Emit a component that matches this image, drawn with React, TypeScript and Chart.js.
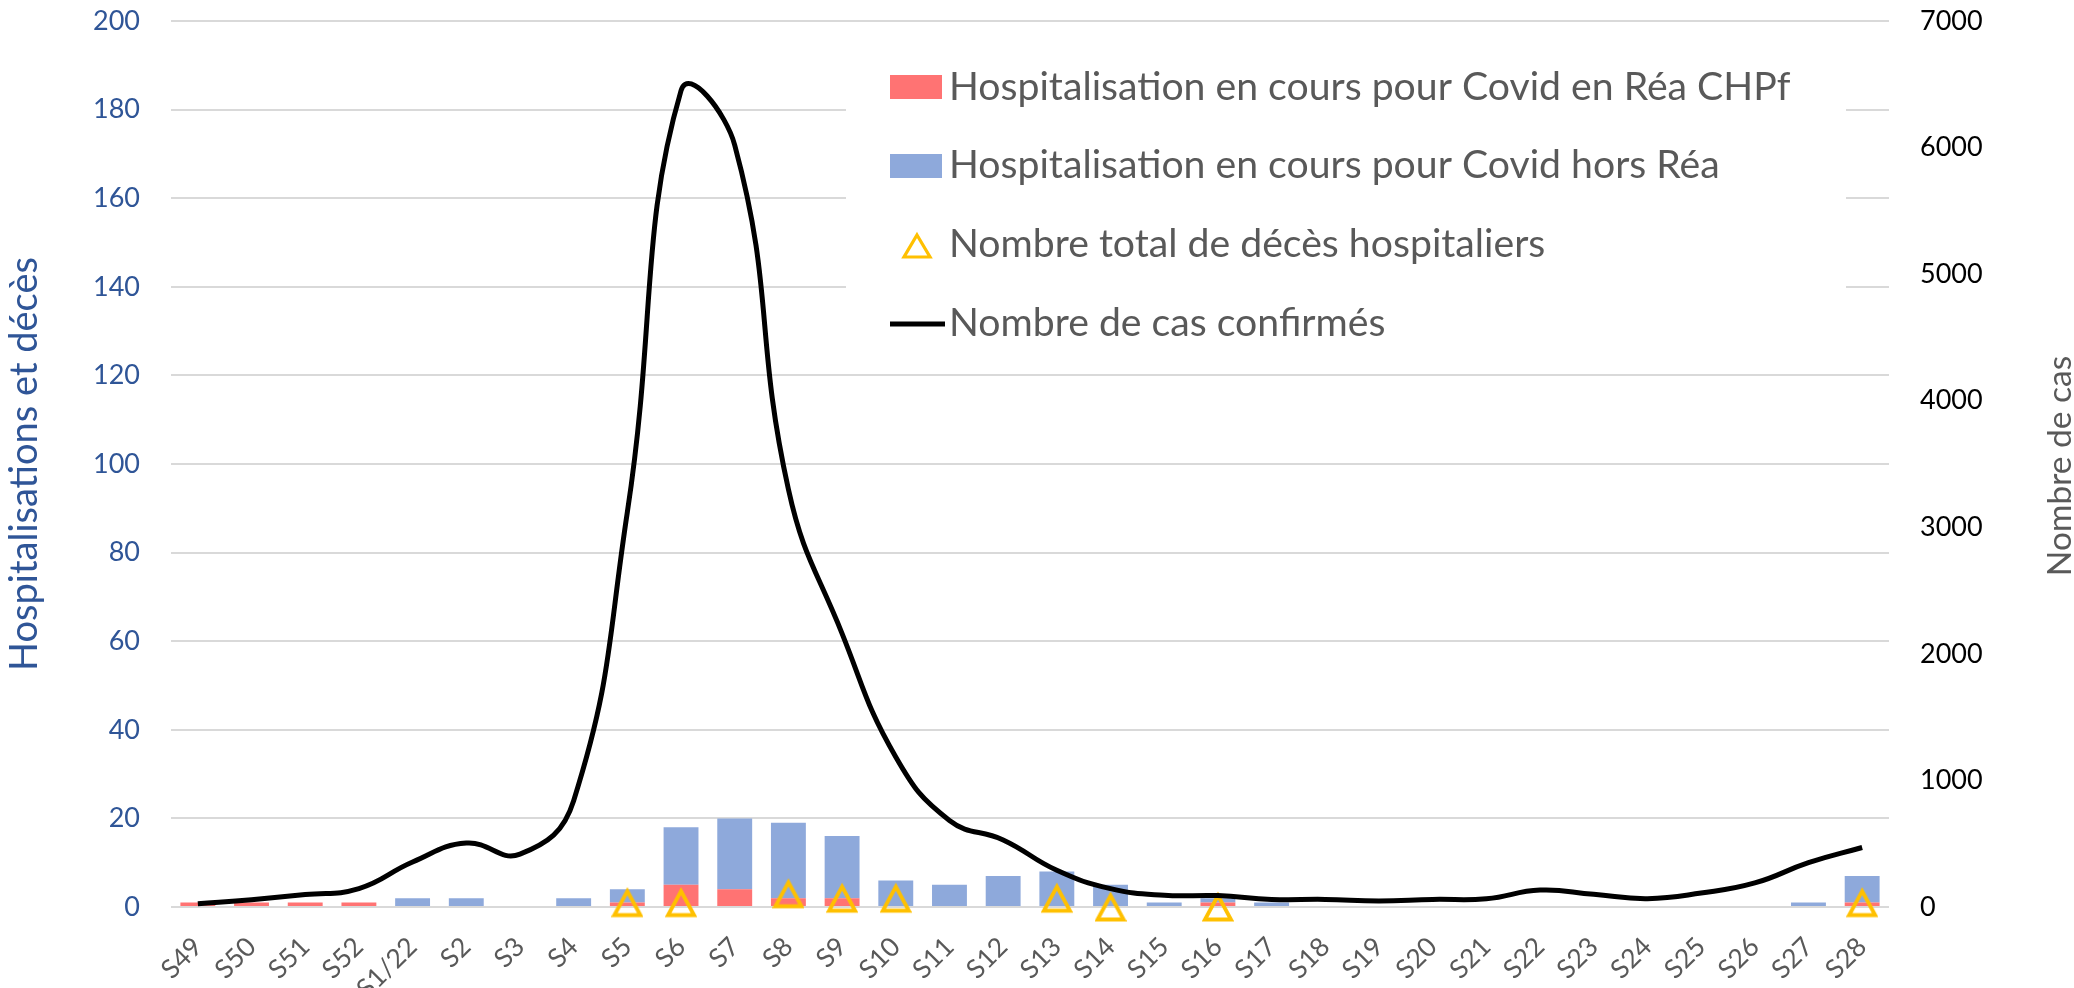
import React, { useEffect, useRef } from 'react';
import { Chart, registerables } from 'chart.js';

Chart.register(...registerables);

const categories = ['S49', 'S50', 'S51', 'S52', 'S1/22', 'S2', 'S3', 'S4', 'S5', 'S6', 'S7', 'S8', 'S9', 'S10', 'S11', 'S12', 'S13', 'S14', 'S15', 'S16', 'S17', 'S18', 'S19', 'S20', 'S21', 'S22', 'S23', 'S24', 'S25', 'S26', 'S27', 'S28'];

const reaValues = [1, 1, 1, 1, 0, 0, 0, 0, 1, 5, 4, 2, 2, 0, 0, 0, 0, 0, 0, 1, 0, 0, 0, 0, 0, 0, 0, 0, 0, 0, 0, 1];

const horsReaValues = [0, 0, 0, 0, 2, 2, 0, 2, 3, 13, 16, 17, 14, 6, 5, 7, 8, 5, 1, 1, 1, 0, 0, 0, 0, 0, 0, 0, 0, 0, 1, 6];

const deathValues = [null, null, null, null, null, null, null, null, 1, 1, null, 3, 2, 2, null, null, 2, 0, null, 0, null, null, null, null, null, null, null, null, null, null, null, 1];

const caseValues = [25, 58, 98, 145, 355, 505, 418, 840, 3120, 6450, 6020, 3300, 2160, 1185, 684, 530, 290, 145, 92, 90, 60, 60, 48, 60, 65, 134, 100, 66, 110, 190, 350, 470];

const labelRea = 'Hospitalisation en cours pour Covid en Réa CHPf';
const labelHorsRea = 'Hospitalisation en cours pour Covid hors Réa';
const labelDeaths = 'Nombre total de décès hospitaliers';
const labelCases = 'Nombre de cas confirmés';
const leftTitle = 'Hospitalisations et décès';
const rightTitle = 'Nombre de cas';

const RED = '#FF7373';
const BLUE = '#8EA9DB';
const ORANGE = '#FFC000';
const GRAY = '#595959';
const DARKBLUE = '#2F5597';
const FONT = 'Lato';

function makeTriangle(color: string) {
  const size = 32;
  const c = document.createElement('canvas');
  c.width = size;
  c.height = size;
  const ctx = c.getContext('2d')!;
  ctx.strokeStyle = color;
  ctx.lineWidth = 3.8;
  ctx.lineJoin = 'miter';
  ctx.beginPath();
  ctx.moveTo(16, 4.5);
  ctx.lineTo(29, 28.5);
  ctx.lineTo(3, 28.5);
  ctx.closePath();
  ctx.stroke();
  return c;
}

const overlayPlugin = {
  id: 'overlay',
  afterDraw(chart: any) {
    const ctx = chart.ctx as CanvasRenderingContext2D;
    const ds = chart.data.datasets;
    ctx.save();
    // legend background
    ctx.fillStyle = '#ffffff';
    ctx.fillRect(846, 40, 1000, 315);
    ctx.font = `39.2px ${FONT}`;
    ctx.textAlign = 'left';
    ctx.textBaseline = 'alphabetic';
    const textX = 949;
    // entry 1
    ctx.fillStyle = ds[0].backgroundColor;
    ctx.fillRect(890, 75, 52, 24);
    ctx.fillStyle = GRAY;
    ctx.fillText(ds[0].label, textX, 100);
    // entry 2
    ctx.fillStyle = ds[1].backgroundColor;
    ctx.fillRect(890, 154, 52, 24);
    ctx.fillStyle = GRAY;
    ctx.fillText(ds[1].label, textX, 178);
    // entry 3
    ctx.strokeStyle = ORANGE;
    ctx.lineWidth = 3.2;
    ctx.beginPath();
    ctx.moveTo(917, 235);
    ctx.lineTo(930, 257);
    ctx.lineTo(904, 257);
    ctx.closePath();
    ctx.stroke();
    ctx.fillStyle = GRAY;
    ctx.fillText(ds[2].label, textX, 257);
    // entry 4
    ctx.strokeStyle = '#000';
    ctx.lineWidth = 5;
    ctx.beginPath();
    ctx.moveTo(890, 324);
    ctx.lineTo(945, 324);
    ctx.stroke();
    ctx.fillStyle = GRAY;
    ctx.fillText(ds[3].label, textX, 336);

    // right axis title
    ctx.translate(2060, 466);
    ctx.rotate(-Math.PI / 2);
    ctx.font = `33.5px ${FONT}`;
    ctx.fillStyle = GRAY;
    ctx.textAlign = 'center';
    ctx.textBaseline = 'middle';
    ctx.fillText(rightTitle, 0, 0);
    ctx.restore();
  },
};

export default function App() {
  const ref = useRef<HTMLCanvasElement>(null);

  useEffect(() => {
    if (!ref.current) return;
    const tri = makeTriangle(ORANGE);
    const chart = new Chart(ref.current, {
      type: 'bar',
      data: {
        labels: categories,
        datasets: [
          {
            type: 'bar',
            label: labelRea,
            data: reaValues,
            backgroundColor: RED,
            yAxisID: 'y',
            stack: 'hosp',
            order: 2,
            barPercentage: 0.65,
            categoryPercentage: 1,
          },
          {
            type: 'bar',
            label: labelHorsRea,
            data: horsReaValues,
            backgroundColor: BLUE,
            yAxisID: 'y',
            stack: 'hosp',
            order: 3,
            barPercentage: 0.65,
            categoryPercentage: 1,
          },
          {
            type: 'line',
            label: labelDeaths,
            data: deathValues,
            yAxisID: 'y',
            stack: 'deaths',
            showLine: false,
            clip: false,
            pointStyle: tri as any,
            pointRadius: 16,
            borderColor: ORANGE,
            backgroundColor: ORANGE,
            order: 1,
          },
          {
            type: 'line',
            label: labelCases,
            data: caseValues,
            yAxisID: 'y1',
            borderColor: '#000000',
            backgroundColor: '#000000',
            borderWidth: 5,
            pointRadius: 0,
            tension: 0.45,
            order: 0,
          },
        ] as any,
      },
      options: {
        responsive: false,
        animation: false,
        layout: { padding: { top: 21, left: 0, right: 0, bottom: 0 } },
        plugins: {
          legend: { display: false },
          tooltip: { enabled: false },
          title: { display: false },
        },
        scales: {
          x: {
            stacked: true,
            grid: { display: false },
            border: { display: false },
            ticks: {
              autoSkip: false,
              maxRotation: 45,
              minRotation: 45,
              color: GRAY,
              padding: 16,
              font: { family: FONT, size: 26.5 },
            },
            afterFit: (s: any) => {
              s.height = 81;
              s.paddingLeft = 0;
              s.paddingRight = 0;
            },
          },
          y: {
            position: 'left',
            stacked: true,
            min: 0,
            max: 200,
            ticks: {
              stepSize: 20,
              color: DARKBLUE,
              padding: 31,
              font: { family: FONT, size: 27 },
            },
            grid: { color: '#D9D9D9', lineWidth: 2, drawTicks: false },
            border: { display: false },
            title: {
              display: true,
              text: leftTitle,
              color: DARKBLUE,
              font: { family: FONT, size: 38 },
              padding: { top: 2, bottom: 0 },
            },
            afterFit: (s: any) => {
              s.width = 171;
              s.paddingTop = 0;
              s.paddingBottom = 0;
            },
          },
          y1: {
            position: 'right',
            min: 0,
            max: 7000,
            ticks: {
              stepSize: 1000,
              color: '#000000',
              padding: 31,
              font: { family: FONT, size: 27 },
              callback: (v: any) => String(v),
            },
            grid: { display: false, drawTicks: false },
            border: { display: false },
            afterFit: (s: any) => {
              s.width = 185;
              s.paddingTop = 0;
              s.paddingBottom = 0;
            },
          },
        },
      } as any,
      plugins: [overlayPlugin],
    });
    return () => chart.destroy();
  }, []);

  return (
    <div style={{ position: 'fixed', left: 0, top: 0, width: 2074, height: 988, background: '#fff' }}>
      <canvas ref={ref} width={2074} height={988} style={{ width: 2074, height: 988, display: 'block' }} />
    </div>
  );
}
